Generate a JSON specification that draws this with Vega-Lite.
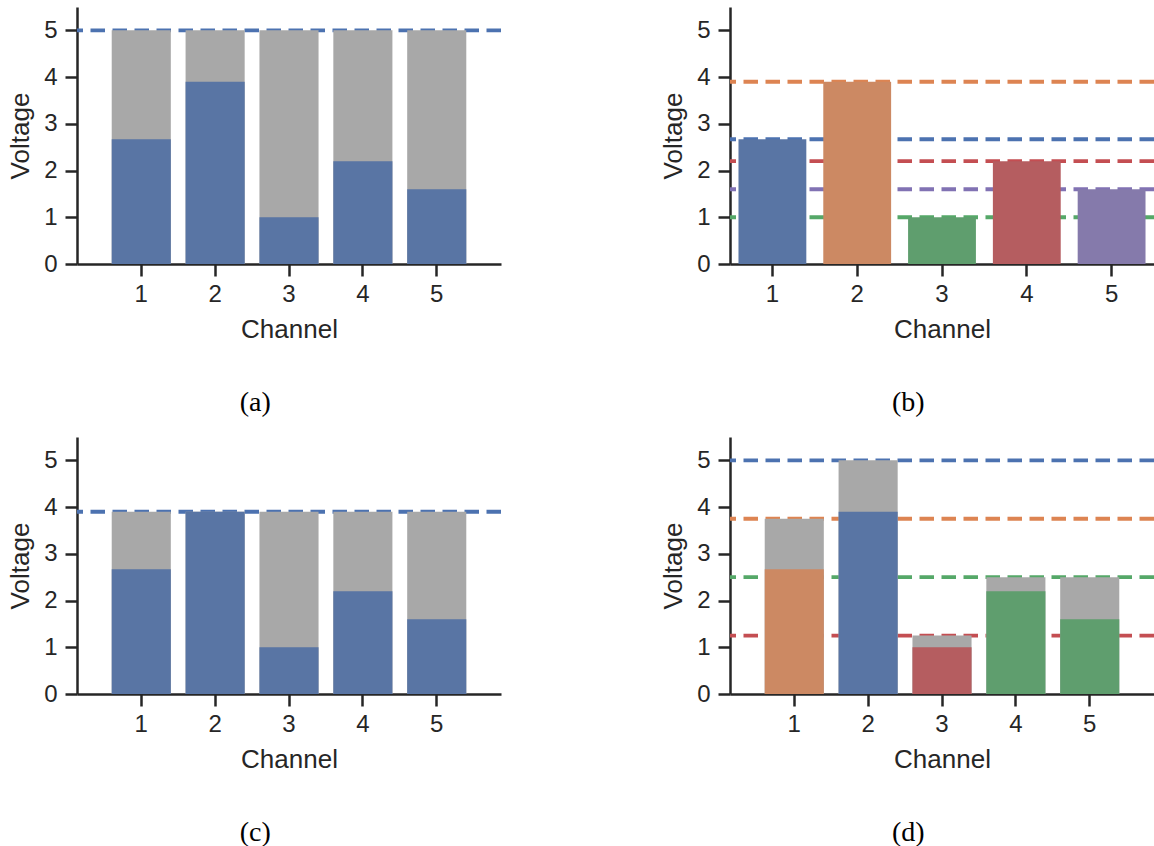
{
  "$schema": "https://vega.github.io/schema/vega-lite/v6.json",
  "padding": {"left": 7, "top": 7, "right": 0, "bottom": 0},
  "autosize": {"type": "pad"},
  "background": "white",
  "columns": 2,
  "spacing": {"row": 20, "column": 157},
  "config": {
    "view": {"stroke": null},
    "axis": {
      "domainColor": "#262626", "domainWidth": 2.5,
      "tickColor": "#262626", "tickWidth": 2.5, "tickSize": 12,
      "labelFont": "Liberation Sans", "labelFontSize": 24, "labelColor": "#262626",
      "titleFont": "Liberation Sans", "titleFontSize": 26, "titleFontWeight": "normal", "titleColor": "#262626",
      "grid": false, "labelOverlap": false, "labelFlush": false
    },
    "axisX": {"labelAngle": 0, "labelPadding": 6, "titlePadding": 10},
    "axisY": {"labelPadding": 8, "titlePadding": 10},
    "title": {"font": "Liberation Serif", "fontSize": 28, "fontWeight": "normal", "color": "#000000"}
  },
  "concat": [
    {
      "width": 424, "height": 257,
      "title": {"text": "(a)", "orient": "bottom", "anchor": "middle", "frame": "bounds", "offset": 47},
      "data": {"values": [
        {"ch": 1, "v": 2.67, "cap": 5},
        {"ch": 2, "v": 3.9, "cap": 5},
        {"ch": 3, "v": 1.0, "cap": 5},
        {"ch": 4, "v": 2.2, "cap": 5},
        {"ch": 5, "v": 1.6, "cap": 5}
      ]},
      "layer": [
        {"mark": {"type": "rule", "strokeDash": [14.5, 7.5], "strokeWidth": 3.8, "color": "#4C72B0"},
         "encoding": {"y": {"aggregate": "max", "field": "cap", "type": "quantitative", "title": "Voltage", "scale": {"domain": [0, 5.5], "nice": false}, "axis": {"values": [0, 1, 2, 3, 4, 5]}}}},
        {"mark": {"type": "bar", "color": "#A8A8A8"},
         "encoding": {
           "x": {"field": "ch", "type": "ordinal", "title": "Channel", "scale": {"paddingInner": 0.2, "paddingOuter": 0.47}},
           "y": {"field": "cap", "type": "quantitative", "title": "Voltage", "scale": {"domain": [0, 5.5], "nice": false}, "axis": {"values": [0, 1, 2, 3, 4, 5]}}}},
        {"mark": {"type": "bar", "color": "#5975A4"},
         "encoding": {
           "x": {"field": "ch", "type": "ordinal", "title": "Channel", "scale": {"paddingInner": 0.2, "paddingOuter": 0.47}},
           "y": {"field": "v", "type": "quantitative", "title": "Voltage", "scale": {"domain": [0, 5.5], "nice": false}, "axis": {"values": [0, 1, 2, 3, 4, 5]}}}}
      ]
    },
    {
      "width": 424, "height": 257,
      "title": {"text": "(b)", "orient": "bottom", "anchor": "middle", "frame": "bounds", "offset": 47},
      "data": {"values": [
        {"ch": 1, "v": 2.67, "grp": "blue"},
        {"ch": 2, "v": 3.9, "grp": "orange"},
        {"ch": 3, "v": 1.0, "grp": "green"},
        {"ch": 4, "v": 2.2, "grp": "red"},
        {"ch": 5, "v": 1.6, "grp": "purple"}
      ]},
      "layer": [
        {"mark": {"type": "rule", "strokeDash": [14.5, 7.5], "strokeWidth": 3.8},
         "encoding": {
           "y": {"field": "v", "type": "quantitative", "title": "Voltage", "scale": {"domain": [0, 5.5], "nice": false}, "axis": {"values": [0, 1, 2, 3, 4, 5]}},
           "stroke": {"field": "grp", "type": "nominal", "legend": null, "scale": {"domain": ["blue", "orange", "green", "red", "purple"], "range": ["#4C72B0", "#DD8452", "#55A868", "#C44E52", "#8172B3"]}}}},
        {"mark": {"type": "bar"},
         "encoding": {
           "x": {"field": "ch", "type": "ordinal", "title": "Channel", "scale": {"paddingInner": 0.2, "paddingOuter": 0.1}},
           "y": {"field": "v", "type": "quantitative", "title": "Voltage", "scale": {"domain": [0, 5.5], "nice": false}, "axis": {"values": [0, 1, 2, 3, 4, 5]}},
           "fill": {"field": "grp", "type": "nominal", "legend": null, "scale": {"domain": ["blue", "orange", "green", "red", "purple"], "range": ["#5975A4", "#CC8963", "#5F9E6E", "#B55D60", "#857AAB"]}}}}
      ]
    },
    {
      "width": 424, "height": 257,
      "title": {"text": "(c)", "orient": "bottom", "anchor": "middle", "frame": "bounds", "offset": 47},
      "data": {"values": [
        {"ch": 1, "v": 2.67, "cap": 3.9},
        {"ch": 2, "v": 3.9, "cap": 3.9},
        {"ch": 3, "v": 1.0, "cap": 3.9},
        {"ch": 4, "v": 2.2, "cap": 3.9},
        {"ch": 5, "v": 1.6, "cap": 3.9}
      ]},
      "layer": [
        {"mark": {"type": "rule", "strokeDash": [14.5, 7.5], "strokeWidth": 3.8, "color": "#4C72B0"},
         "encoding": {"y": {"aggregate": "max", "field": "cap", "type": "quantitative", "title": "Voltage", "scale": {"domain": [0, 5.5], "nice": false}, "axis": {"values": [0, 1, 2, 3, 4, 5]}}}},
        {"mark": {"type": "bar", "color": "#A8A8A8"},
         "encoding": {
           "x": {"field": "ch", "type": "ordinal", "title": "Channel", "scale": {"paddingInner": 0.2, "paddingOuter": 0.47}},
           "y": {"field": "cap", "type": "quantitative", "title": "Voltage", "scale": {"domain": [0, 5.5], "nice": false}, "axis": {"values": [0, 1, 2, 3, 4, 5]}}}},
        {"mark": {"type": "bar", "color": "#5975A4"},
         "encoding": {
           "x": {"field": "ch", "type": "ordinal", "title": "Channel", "scale": {"paddingInner": 0.2, "paddingOuter": 0.47}},
           "y": {"field": "v", "type": "quantitative", "title": "Voltage", "scale": {"domain": [0, 5.5], "nice": false}, "axis": {"values": [0, 1, 2, 3, 4, 5]}}}}
      ]
    },
    {
      "width": 424, "height": 257,
      "title": {"text": "(d)", "orient": "bottom", "anchor": "middle", "frame": "bounds", "offset": 47},
      "data": {"values": [
        {"ch": 1, "v": 2.67, "cap": 3.75, "grp": "orange"},
        {"ch": 2, "v": 3.9, "cap": 5, "grp": "blue"},
        {"ch": 3, "v": 1.0, "cap": 1.25, "grp": "red"},
        {"ch": 4, "v": 2.2, "cap": 2.5, "grp": "green"},
        {"ch": 5, "v": 1.6, "cap": 2.5, "grp": "green"}
      ]},
      "layer": [
        {"mark": {"type": "rule", "strokeDash": [14.5, 7.5], "strokeWidth": 3.8},
         "encoding": {
           "y": {"aggregate": "max", "field": "cap", "type": "quantitative", "title": "Voltage", "scale": {"domain": [0, 5.5], "nice": false}, "axis": {"values": [0, 1, 2, 3, 4, 5]}},
           "stroke": {"field": "grp", "type": "nominal", "legend": null, "scale": {"domain": ["blue", "orange", "green", "red", "purple"], "range": ["#4C72B0", "#DD8452", "#55A868", "#C44E52", "#8172B3"]}}}},
        {"mark": {"type": "bar", "color": "#A8A8A8"},
         "encoding": {
           "x": {"field": "ch", "type": "ordinal", "title": "Channel", "scale": {"paddingInner": 0.2, "paddingOuter": 0.47}},
           "y": {"field": "cap", "type": "quantitative", "title": "Voltage", "scale": {"domain": [0, 5.5], "nice": false}, "axis": {"values": [0, 1, 2, 3, 4, 5]}}}},
        {"mark": {"type": "bar"},
         "encoding": {
           "x": {"field": "ch", "type": "ordinal", "title": "Channel", "scale": {"paddingInner": 0.2, "paddingOuter": 0.47}},
           "y": {"field": "v", "type": "quantitative", "title": "Voltage", "scale": {"domain": [0, 5.5], "nice": false}, "axis": {"values": [0, 1, 2, 3, 4, 5]}},
           "fill": {"field": "grp", "type": "nominal", "legend": null, "scale": {"domain": ["blue", "orange", "green", "red", "purple"], "range": ["#5975A4", "#CC8963", "#5F9E6E", "#B55D60", "#857AAB"]}}}}
      ]
    }
  ]
}
